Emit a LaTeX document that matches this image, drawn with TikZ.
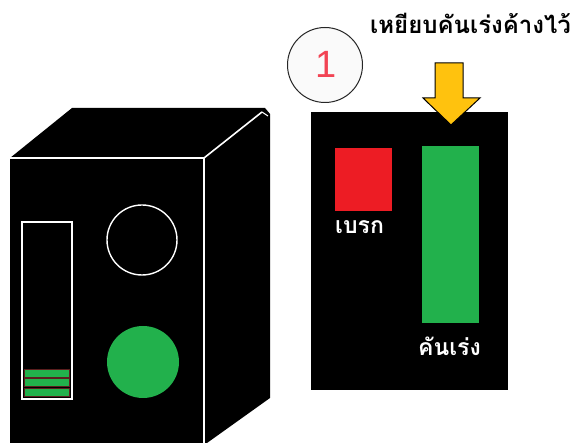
\documentclass[tikz,border=0pt]{standalone}
\usepackage{fontspec}
\newfontfamily\thaifont[Script=Thai]{Loma}
\setsansfont{Liberation Sans}
\definecolor{pedalgreen}{RGB}{34,177,76}
\definecolor{pedalred}{RGB}{237,28,36}
\definecolor{arrowgold}{RGB}{255,194,14}
\definecolor{numred}{RGB}{242,68,84}
\definecolor{barline}{RGB}{90,30,30}
\begin{document}
\begin{tikzpicture}[x=1pt,y=-1pt,
  whiteedge/.style={draw=white,line width=1.6pt},
  thailabel/.style={text=white,font=\thaifont\bfseries\fontsize{23}{26}\selectfont,inner sep=0pt},
  greenbar/.style={fill=pedalgreen,draw=barline,line width=0.6pt}]
\useasboundingbox (0,0) rectangle (574,443);
\fill[white] (0,0) rectangle (574,443);

% cabinet: top, right side, front
\fill[black] (10,158) -- (72,108) -- (265,108) -- (270,114) -- (270,398) -- (207,443) -- (10,443) -- cycle;
\draw[whiteedge] (10,158) -- (204,158) -- (204,443);
\draw[whiteedge] (204,158) -- (262,112);
\draw[draw=white,line width=1pt] (262,112) -- (268,116);

% gauge slot with level bars
\draw[draw=white,line width=1.2pt] (22,222) rectangle (72,399);
\fill[greenbar] (24,369) rectangle (69,377);
\fill[greenbar] (24,378.5) rectangle (69,386.5);
\fill[greenbar] (24,388) rectangle (69,396);

% indicator lamps
\node[circle,draw=white,line width=1.4pt,fill=black,minimum size=70pt,inner sep=0pt] (lampoff) at (142,240) {};
\node[circle,fill=pedalgreen,minimum size=72pt,inner sep=0pt] (lampon) at (143,362) {};

% pedal panel
\node[fill=black,minimum width=197pt,minimum height=278pt,inner sep=0pt,anchor=north west] (panel) at (311,112) {};
\node[fill=pedalred,minimum width=57pt,minimum height=63pt,inner sep=0pt,anchor=north west] (brake) at (335,148) {};
\node[fill=pedalgreen,minimum width=57pt,minimum height=177pt,inner sep=0pt,anchor=north west] (accel) at (422,146) {};
\node[thailabel,anchor=base west] (brakelabel) at (335,234) {เบรก};
\node[thailabel,anchor=base west] (accellabel) at (418,356) {คันเร่ง};

% step number and instruction
\node[circle,draw=black!85,line width=1pt,fill=black!2,minimum size=75pt,inner sep=0pt] (stepnum) at (325,65) {};
\node[text=numred,font=\sffamily\fontsize{38}{40}\selectfont,inner sep=0pt,anchor=base] (stepdigit) at (326,78) {1};
\node[anchor=base west,inner sep=0pt,font=\thaifont\bfseries\fontsize{24}{27}\selectfont] (hint) at (370,34) {เหยียบคันเร่งค้างไว้};

% push arrow onto the accelerator
\draw[fill=arrowgold,draw=black,line width=1pt,line join=miter]
  (435,63) -- (463,63) -- (463,98) -- (480,98) -- (451,125) -- (423,98) -- (435,98) -- cycle;
\end{tikzpicture}
\end{document}
